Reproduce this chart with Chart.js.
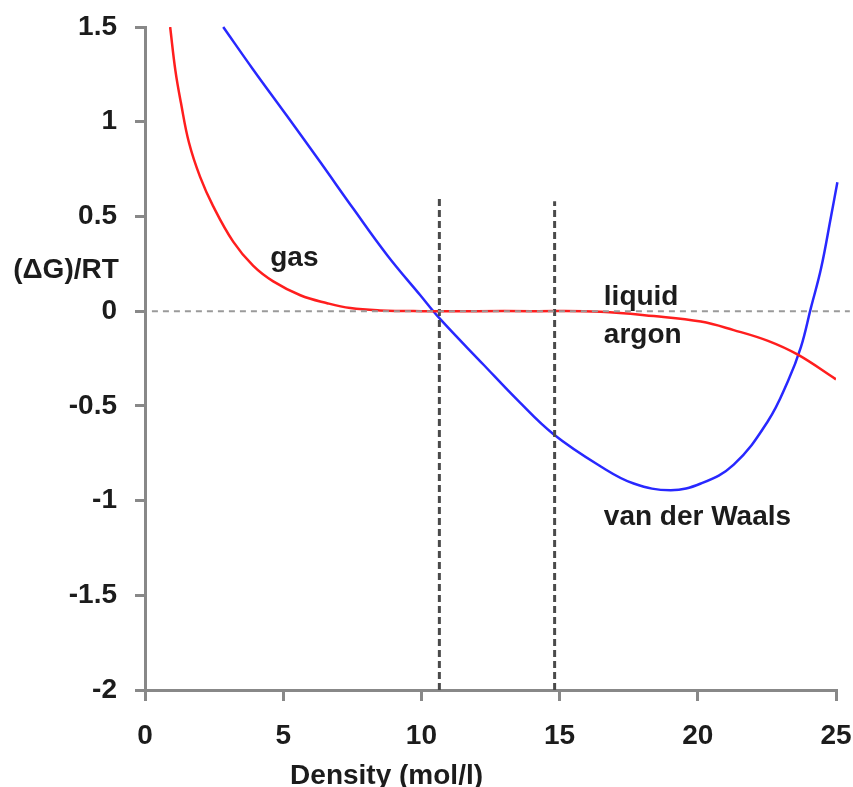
<!DOCTYPE html>
<html>
<head>
<meta charset="utf-8">
<script src="https://cdn.jsdelivr.net/npm/chart.js@4/dist/chart.umd.min.js"></script>
<style>
  html, body { margin: 0; padding: 0; background: #fff; }
  #wrap { width: 853px; height: 787px; }
</style>
</head>
<body>
<div id="wrap"><canvas id="gibbsChart" width="853" height="787"></canvas></div>
<script>
// Red curve: argon (gas -> liquid)
var argonX = [0.91, 1.10, 1.30, 1.59, 1.99, 2.46, 3.19, 3.91, 4.64, 5.62, 6.59, 7.43, 8.5, 10.0, 12.0, 14.0, 16.49, 18.41, 20.11, 21.3, 22.54, 23.62, 25.0];
var argonY = [1.5, 1.27, 1.10, 0.89, 0.71, 0.556, 0.367, 0.24, 0.157, 0.084, 0.042, 0.016, 0.004, 0, 0, 0, -0.003, -0.026, -0.055, -0.10, -0.157, -0.23, -0.36];

// Blue curve: van der Waals
var vdwX = [2.83, 3.91, 5.14, 6.34, 7.54, 8.77, 9.96, 10.65, 12.25, 13.48, 14.78, 16.49, 17.68, 19.02, 20.11, 21.3, 22.54, 23.26, 23.73, 24.09, 24.46, 24.82, 25.05];
var vdwY = [1.5, 1.276, 1.03, 0.787, 0.54, 0.294, 0.084, -0.037, -0.283, -0.47, -0.65, -0.82, -0.91, -0.945, -0.91, -0.81, -0.58, -0.37, -0.19, 0.016, 0.226, 0.50, 0.68];

// dashed guide lines
var zeroLineX = [0.25, 25.5];
var zeroLineY = [0, 0];
var gasCoexX = [10.65, 10.65];
var gasCoexY = [-2, 0.61];
var liqCoexX = [14.82, 14.82];
var liqCoexY = [-2, 0.58];

var xTicks = [0, 5, 10, 15, 20, 25];
var yTicks = [1.5, 1, 0.5, 0, -0.5, -1, -1.5, -2];

// text annotations (data coords: left x, baseline y)
var noteText = ['gas', 'liquid', 'argon', 'van der Waals'];
var noteX = [4.53, 16.6, 16.6, 16.6];
var noteY = [0.24, 0.03, -0.17, -1.13];

var FONT = '"Liberation Sans", Arial, sans-serif';
var TEXT_COLOR = '#1c1c1c';

function toPoints(xs, ys) {
    return xs.map(function (x, i) { return { x: x, y: ys[i] }; });
}

// draws the free text labels and both axis titles
var notesPlugin = {
    id: 'notes',
    afterDatasetsDraw: function (chart) {
        var ctx = chart.ctx;
        var xs = chart.scales.x;
        var ys = chart.scales.y;
        var area = chart.chartArea;
        ctx.save();
        ctx.fillStyle = TEXT_COLOR;
        ctx.font = 'bold 28px ' + FONT;
        ctx.textBaseline = 'alphabetic';
        ctx.textAlign = 'left';
        noteText.forEach(function (t, i) {
            ctx.fillText(t, xs.getPixelForValue(noteX[i]), ys.getPixelForValue(noteY[i]));
        });
        // y axis title, horizontal
        ctx.textAlign = 'center';
        ctx.fillText('(\u0394G)/RT', area.left - 79, ys.getPixelForValue(0.173));
        // x axis title (sits low, partly cut off)
        ctx.textAlign = 'left';
        ctx.fillText('Density (mol/l)', xs.getPixelForValue(5.25), area.bottom + 94);
        ctx.restore();
    }
};

var ctx = document.getElementById('gibbsChart').getContext('2d');
var gibbsChart = new Chart(ctx, {
    type: 'scatter',
    data: {
        datasets: [
            {
                label: 'zero',
                data: toPoints(zeroLineX, zeroLineY),
                showLine: true,
                borderColor: '#9a9a9a',
                borderWidth: 2,
                borderDash: [6, 5],
                pointRadius: 0,
                clip: false
            },
            {
                label: 'gas coexistence',
                data: toPoints(gasCoexX, gasCoexY),
                showLine: true,
                borderColor: '#4a4a4a',
                borderWidth: 3,
                borderDash: [7, 4],
                pointRadius: 0
            },
            {
                label: 'liquid coexistence',
                data: toPoints(liqCoexX, liqCoexY),
                showLine: true,
                borderColor: '#4a4a4a',
                borderWidth: 3,
                borderDash: [7, 4],
                pointRadius: 0
            },
            {
                label: 'argon',
                data: toPoints(argonX, argonY),
                showLine: true,
                borderColor: 'rgb(255, 30, 30)',
                borderWidth: 2.5,
                tension: 0.4,
                pointRadius: 0
            },
            {
                label: 'van der Waals',
                data: toPoints(vdwX, vdwY),
                showLine: true,
                borderColor: 'rgb(40, 40, 255)',
                borderWidth: 2.5,
                tension: 0.4,
                pointRadius: 0,
                clip: false
            }
        ]
    },
    options: {
        responsive: false,
        animation: false,
        devicePixelRatio: 1,
        layout: {
            padding: { top: 27, right: 17, left: 0, bottom: 0 }
        },
        plugins: {
            legend: { display: false },
            tooltip: { enabled: false },
            title: { display: false }
        },
        scales: {
            x: {
                type: 'linear',
                min: 0,
                max: 25,
                afterBuildTicks: function (scale) {
                    scale.ticks = xTicks.map(function (v) { return { value: v }; });
                },
                afterFit: function (scale) {
                    scale.height = 97;
                    scale.paddingLeft = 0;
                    scale.paddingRight = 0;
                },
                grid: {
                    drawOnChartArea: false,
                    drawTicks: true,
                    tickLength: 11,
                    color: '#888',
                    lineWidth: 3
                },
                border: { color: '#888', width: 3 },
                ticks: {
                    color: TEXT_COLOR,
                    font: { family: FONT, size: 28, weight: 'bold' },
                    padding: 18,
                    maxRotation: 0,
                    callback: function (v) { return String(v); }
                }
            },
            y: {
                type: 'linear',
                min: -2,
                max: 1.5,
                afterBuildTicks: function (scale) {
                    scale.ticks = yTicks.map(function (v) { return { value: v }; });
                },
                afterFit: function (scale) {
                    scale.width = 145;
                    scale.paddingTop = 0;
                    scale.paddingBottom = 0;
                },
                grid: {
                    drawOnChartArea: false,
                    drawTicks: true,
                    tickLength: 10,
                    color: '#888',
                    lineWidth: 3
                },
                border: { color: '#888', width: 3 },
                ticks: {
                    color: TEXT_COLOR,
                    font: { family: FONT, size: 28, weight: 'bold' },
                    padding: 18,
                    callback: function (v) { return String(v); }
                }
            }
        }
    },
    plugins: [notesPlugin]
});
</script>
</body>
</html>
